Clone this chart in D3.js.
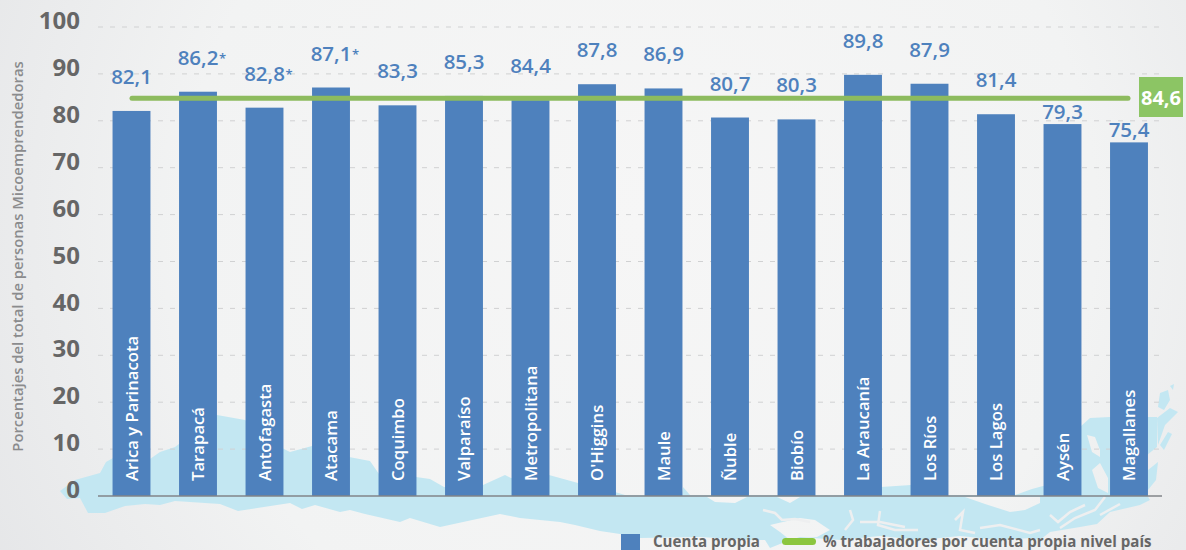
<!DOCTYPE html>
<html>
<head>
<meta charset="utf-8">
<script src="https://cdn.jsdelivr.net/npm/d3@7"></script>
<style>
	html, body { margin: 0; padding: 0; background: #f1f2f3; overflow: hidden; }
	svg { display: block; font-family: "Open Sans", sans-serif; }
</style>
</head>
<body>
<svg></svg>
<script>
const regions = ["Arica y Parinacota", "Tarapacá", "Antofagasta", "Atacama", "Coquimbo", "Valparaíso", "Metropolitana", "O'Higgins", "Maule", "Ñuble", "Biobío", "La Araucanía", "Los Ríos", "Los Lagos", "Aysén", "Magallanes"];
const values = [82.1, 86.2, 82.8, 87.1, 83.3, 85.3, 84.4, 87.8, 86.9, 80.7, 80.3, 89.8, 87.9, 81.4, 79.3, 75.4];
const valueLabels = ["82,1", "86,2", "82,8", "87,1", "83,3", "85,3", "84,4", "87,8", "86,9", "80,7", "80,3", "89,8", "87,9", "81,4", "79,3", "75,4"];
const starred = ["Tarapacá", "Antofagasta", "Atacama"];
const yTicks = [0, 10, 20, 30, 40, 50, 60, 70, 80, 90, 100];
const nationalValue = 84.6;
const nationalLabel = "84,6";
const yTitle = "Porcentajes del total de personas Micoemprendedoras";
const legendBar = "Cuenta propia";
const legendLine = "% trabajadores por cuenta propia nivel país";

// decorative map of Chile behind the chart, traced by hand
const mapOutline = "M60,491 L75,480 L100,473 L106,462 L113,458 L150,459 L160,452 L175,447 L217,415 L245,420 L284,449 L290,452 L312,446 L349,457 L370,461 L379,474 L416,477 L430,479 L444,487 L483,485 L505,475 L511,478 L549,475 L578,483 L615,492 L625,495 L682,495 L683,487 L690,495 L860,495 L881,487 L911,485 L948,495 L1015,495 L1032,489 L1043,486 L1080,482 L1080,427 L1090,418 L1110,417 L1157,417 L1157,447 L1147,455 L1147,495 L1150,500 L1140,505 L1110,512 L1097,524 L1080,527 L1050,532 L1040,540 L1030,538 L1000,540 L960,536 L920,540 L880,536 L840,540 L800,537 L790,540 L770,548 L765,540 L750,540 L700,537 L640,538 L620,534 L600,531 L575,525 L560,522 L520,518 L500,514 L440,527 L410,518 L400,522 L365,514 L350,510 L340,512 L315,505 L302,509 L290,503 L238,511 L220,504 L175,501 L160,505 L145,504 L125,506 L105,513 L88,513 L80,498 L67,499 Z";
const mapIslands = [
	"M1157,418 L1170,408 L1178,412 L1165,425 L1158,445 Z",
	"M1160,393 L1168,390 L1170,400 L1164,410 L1158,407 Z",
	"M1170,386 L1174,384 L1173,390 Z",
	"M1160,445 L1168,432 L1172,434 L1164,450 Z",
	"M1148,470 L1158,462 L1156,480 L1148,490 Z"
];
const mapHoles = [
	"M1087,435 L1095,437 L1100,450 L1100,457 L1092,452 Z",
	"M1092,470 L1100,463 L1108,478 L1108,493 L1098,488 Z",
	"M965,497 L985,504 L1010,512 L1025,510 L1040,503 L1040,497 Z",
	"M707,497 L747,497 L735,503 L715,502 Z",
	"M777,497 L800,497 L790,503 Z",
	"M800,518 L815,520 L830,530 L817,537 L790,540 L780,532 L770,525 Z"
];
const mapFjords = [
	"M763,510 L775,513 L782,520 L795,519 L810,522",
	"M850,510 L853,520 L845,530",
	"M880,511 L878,525 L895,530 L918,530",
	"M860,522 L880,522 L905,527",
	"M955,520 L963,512 L960,530 L975,533",
	"M980,528 L1000,525 L1030,533 L1040,530",
	"M1050,515 L1058,522 L1070,512 L1085,505",
	"M1060,528 L1075,518 L1095,510 L1105,497",
	"M1100,515 L1120,504"
];

const width = 1186;
const height = 550;

const x = d3.scaleBand()
	.domain(regions)
	.range([98.25, 1162.25])
	.paddingInner(0.43)
	.paddingOuter(0.215);

const y = d3.scaleLinear()
	.domain([0, 100])
	.range([496, 27]);

const svg = d3.select("svg")
	.attr("width", width)
	.attr("height", height);

const defs = svg.append("defs");
const bg = defs.append("radialGradient")
	.attr("id", "bg")
	.attr("gradientUnits", "userSpaceOnUse")
	.attr("cx", 640).attr("cy", 220).attr("r", 760);
bg.append("stop").attr("offset", "0%").attr("stop-color", "#f6f6f6");
bg.append("stop").attr("offset", "60%").attr("stop-color", "#f2f3f3");
bg.append("stop").attr("offset", "100%").attr("stop-color", "#e4e5e7");

svg.append("rect")
	.attr("width", width)
	.attr("height", height)
	.attr("fill", "url(#bg)");

svg.append("path")
	.attr("d", [mapOutline].concat(mapHoles, mapIslands).join(" "))
	.attr("fill", "#c3e7f2")
	.attr("fill-rule", "evenodd");

svg.append("g")
	.selectAll("path")
	.data(mapFjords)
	.join("path")
	.attr("d", d => d)
	.attr("fill", "none")
	.attr("stroke", "#eeeff0")
	.attr("stroke-width", 2.5);

// grid
svg.append("g")
	.selectAll("line")
	.data(yTicks.filter(d => d > 0))
	.join("line")
	.attr("x1", 98)
	.attr("x2", 1162)
	.attr("y1", d => y(d))
	.attr("y2", d => y(d))
	.attr("stroke", "#d0d1d2")
	.attr("stroke-width", 1)
	.attr("stroke-dasharray", "5 7");

// y axis, only the labels show
const yAxis = svg.append("g")
	.attr("transform", "translate(80,0)")
	.call(d3.axisLeft(y).tickValues(yTicks).tickSize(0).tickPadding(0));
yAxis.select(".domain").remove();
yAxis.selectAll("text")
	.attr("dy", "0.07em")
	.attr("fill", "#666666")
	.style("font-family", '"Open Sans", sans-serif')
	.style("font-size", "24px")
	.style("font-weight", 700);

svg.append("text")
	.attr("transform", "translate(23,256.5) rotate(-90)")
	.attr("text-anchor", "middle")
	.attr("fill", "#8a8b8d")
	.style("font-size", "14.8px")
	.style("font-weight", 600)
	.text(yTitle);

// bars
svg.append("g")
	.selectAll("rect")
	.data(regions)
	.join("rect")
	.attr("x", d => x(d))
	.attr("width", x.bandwidth())
	.attr("y", (d, i) => y(values[i]))
	.attr("height", (d, i) => y(0) - y(values[i]))
	.attr("fill", "#4e81bd");

// baseline
svg.append("line")
	.attr("x1", 98)
	.attr("x2", 1162)
	.attr("y1", y(0))
	.attr("y2", y(0))
	.attr("stroke", "#828588")
	.attr("stroke-width", 1.5);

// region names inside the bars
svg.append("g")
	.selectAll("text")
	.data(regions)
	.join("text")
	.attr("transform", d => `translate(${x(d) + x.bandwidth() / 2 + 6},481) rotate(-90)`)
	.attr("fill", "#ffffff")
	.style("font-size", "16.7px")
	.style("font-weight", 600)
	.text(d => d);

// national line
svg.append("line")
	.attr("x1", 132)
	.attr("x2", 1128)
	.attr("y1", y(nationalValue) - 1)
	.attr("y2", y(nationalValue) - 1)
	.attr("stroke", "#8dbb5e")
	.attr("stroke-width", 5)
	.attr("stroke-linecap", "round");

svg.append("rect")
	.attr("x", 1139)
	.attr("y", 77)
	.attr("width", 44)
	.attr("height", 40)
	.attr("fill", "#8cc564");

svg.append("text")
	.attr("x", 1161)
	.attr("y", 105)
	.attr("text-anchor", "middle")
	.attr("fill", "#ffffff")
	.style("font-size", "20px")
	.style("font-weight", 700)
	.text(nationalLabel);

// value labels above the bars, the low ones sit under the green line
const labelY = v => y(v) - (v < 80 ? 5 : 27);

svg.append("g")
	.selectAll("text")
	.data(regions)
	.join("text")
	.attr("x", d => x(d) + x.bandwidth() / 2)
	.attr("y", (d, i) => labelY(values[i]))
	.attr("text-anchor", "middle")
	.attr("fill", "#4e81bd")
	.style("font-size", "20.5px")
	.style("font-weight", 600)
	.text((d, i) => valueLabels[i]);

svg.append("g")
	.selectAll("text")
	.data(starred)
	.join("text")
	.attr("x", d => x(d) + x.bandwidth() / 2 + 21)
	.attr("y", d => labelY(values[regions.indexOf(d)]) - 2)
	.attr("fill", "#4e81bd")
	.style("font-size", "13px")
	.style("font-weight", 600)
	.text("*");

// legend
svg.append("rect")
	.attr("x", 621)
	.attr("y", 534)
	.attr("width", 19)
	.attr("height", 16)
	.attr("fill", "#4e81bd");
svg.append("text")
	.attr("x", 653)
	.attr("y", 547)
	.attr("fill", "#666666")
	.style("font-size", "15.1px")
	.style("font-weight", 700)
	.text(legendBar);
svg.append("line")
	.attr("x1", 785.5)
	.attr("x2", 812.5)
	.attr("y1", 541.5)
	.attr("y2", 541.5)
	.attr("stroke", "#8cc63f")
	.attr("stroke-width", 7)
	.attr("stroke-linecap", "round");
svg.append("text")
	.attr("x", 823)
	.attr("y", 547)
	.attr("fill", "#666666")
	.style("font-size", "15.1px")
	.style("font-weight", 700)
	.text(legendLine);
</script>
</body>
</html>
